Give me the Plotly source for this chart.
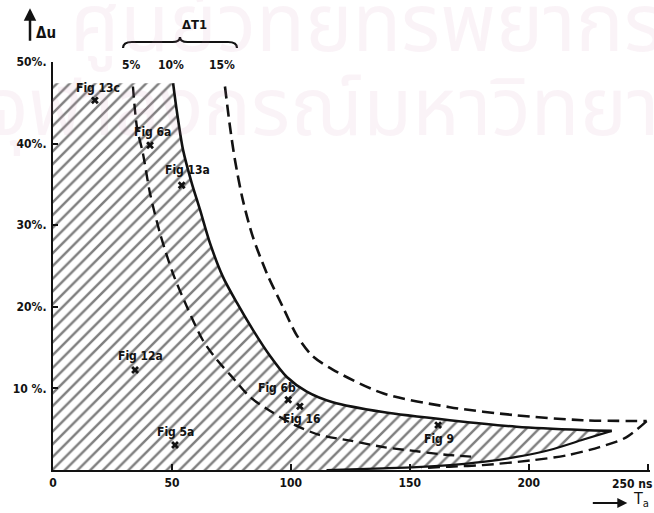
import plotly.graph_objects as go

# ---- data ----
# upper boundary of hatched region (solid, ΔT1 = 10 %)
solid_up_T = [50.5, 52.0, 54.7, 58.3, 61.8, 66.0, 71.4, 77.3, 84.0, 91.2, 98.3, 106.7, 117.6, 138.7, 166.8, 194.9, 222.7, 234.9]
solid_up_u = [47.4, 44.1, 39.2, 35.2, 31.9, 27.8, 23.7, 20.5, 17.2, 14.0, 11.4, 9.6, 8.3, 7.1, 6.1, 5.3, 4.9, 4.8]
# lower boundary returning from the tip (solid)
solid_lo_T = [234.9, 222.7, 208.8, 194.9, 180.7, 166.8, 152.9, 138.7, 125, 115]
solid_lo_u = [4.8, 3.7, 2.45, 1.6, 1.0, 0.6, 0.35, 0.2, 0.08, 0.0]
# ΔT1 = 5 % (dashed, inner)
dash5_T = [33.6, 35.3, 37.8, 40.8, 45.0, 50.4, 56.3, 63.0, 68.9, 75.0, 83.0, 91.0, 101, 112, 125, 139, 150, 164, 178]
dash5_u = [47.0, 42.0, 38.8, 33.9, 29.0, 24.1, 20.0, 15.9, 13.5, 11.5, 8.9, 7.3, 5.6, 4.3, 3.6, 2.8, 2.4, 1.9, 1.6]
# ΔT1 = 15 % (dashed, outer) - upper branch and return branch
dash15_up_T = [72.3, 74.4, 76.5, 79.8, 84.0, 89.9, 96.6, 102.5, 109, 117.6, 138.7, 166.8, 194.9, 222.7, 249.6]
dash15_up_u = [47.0, 42.1, 38.0, 33.1, 28.6, 24.1, 20.0, 16.5, 14.0, 12.3, 9.4, 7.7, 6.7, 6.1, 6.0]
dash15_lo_T = [249.6, 241, 229.8, 216, 201.7, 180.7, 166.8, 155]
dash15_lo_u = [6.0, 4.0, 2.8, 1.8, 1.2, 0.6, 0.4, 0.25]

# measured points
fig_names = ["Fig 13c", "Fig 6a", "Fig 13a", "Fig 12a", "Fig 5a", "Fig 6b", "Fig 16", "Fig 9"]
fig_T = [17.6, 40.8, 54.1, 34.5, 51.3, 98.9, 103.8, 161.9]
fig_u = [45.3, 39.8, 34.9, 12.25, 3.06, 8.6, 7.8, 5.5]
label_dx = [3, 2, 6, 5, 0, -11, 2, 1]
label_dy = [12, 13, 15, 14, 13, 12, -13, -14]

# curve labels (ΔT1)
curve_labels = ["5%", "10%", "15%"]
curve_label_T = [32.8, 49.6, 71.0]

y_ticks = [10, 20, 30, 40, 50]
y_ticktext = ["10 %.", "20%.", "30%.", "40%.", "50%."]
x_ticks = [0, 50, 100, 150, 200, 250]
x_ticktext = ["0", "50", "100", "150", "200", " "]

INK = "#121212"
FONT = dict(family="DejaVu Sans Condensed", size=12, color=INK, weight="bold")
SPL = dict(shape="spline", smoothing=0.8)

fig = go.Figure()

# hatched region
reg_T = [0, 0] + solid_up_T + solid_lo_T[1:] + [0]
reg_u = [0, solid_up_u[0]] + solid_up_u + solid_lo_u[1:] + [0]
fig.add_trace(go.Scatter(
    x=reg_T, y=reg_u, mode="lines", fill="toself", line=dict(width=0),
    fillcolor="rgba(255,255,255,0)",
    fillpattern=dict(shape="/", fgcolor="#000000", bgcolor="rgba(255,255,255,0)", size=9, solidity=0.27),
    hoverinfo="skip", showlegend=False))

# solid boundary
fig.add_trace(go.Scatter(x=solid_up_T, y=solid_up_u, mode="lines",
                         line=dict(color=INK, width=2.6, **SPL), showlegend=False))
fig.add_trace(go.Scatter(x=solid_lo_T, y=solid_lo_u, mode="lines",
                         line=dict(color=INK, width=2.2, **SPL), showlegend=False))
# dashed curves
fig.add_trace(go.Scatter(x=dash5_T, y=dash5_u, mode="lines",
                         line=dict(color=INK, width=2.4, dash="11px,6px", **SPL), showlegend=False))
fig.add_trace(go.Scatter(x=dash15_up_T, y=dash15_up_u, mode="lines",
                         line=dict(color=INK, width=2.6, dash="12px,6px", **SPL), showlegend=False))
fig.add_trace(go.Scatter(x=dash15_lo_T, y=dash15_lo_u, mode="lines",
                         line=dict(color=INK, width=2.4, dash="12px,6px", **SPL), showlegend=False))

# points
fig.add_trace(go.Scatter(x=fig_T, y=fig_u, mode="markers",
                         marker=dict(symbol="x", size=7, color=INK, line=dict(width=0)),
                         showlegend=False))

annotations = []
# library stamp watermark (very faint)
WM = dict(family="Noto Sans Thai, Noto Sans", size=80, color="rgba(205,140,180,0.10)")
annotations += [
    dict(x=1.025, y=1.086, xref="paper", yref="paper", text="ศูนย์วิทยทรัพยากร", showarrow=False,
         xanchor="right", yanchor="middle", font=WM),
    dict(x=1.176, y=0.882, xref="paper", yref="paper", text="จุฬาลงกรณ์มหาวิทยาลัย", showarrow=False,
         xanchor="right", yanchor="middle", font=WM),
]
for name, t, u, dx, dy in zip(fig_names, fig_T, fig_u, label_dx, label_dy):
    annotations.append(dict(x=t, y=u, xref="x", yref="y", text=name, showarrow=False,
                            xshift=dx, yshift=dy, font=FONT))
for lab, t in zip(curve_labels, curve_label_T):
    annotations.append(dict(x=t, y=49.6, xref="x", yref="y", text=lab, showarrow=False,
                            font=FONT, yanchor="middle"))
annotations += [
    dict(x=0.2127, y=1.115, xref="paper", yref="paper", text="ΔT1", showarrow=False,
         font=dict(family="DejaVu Sans Condensed", size=13, color=INK, weight="bold")),
    # Δu arrow
    dict(x=-0.0385, y=1.132, xref="paper", yref="paper", ax=0, ay=34, text="", showarrow=True,
         arrowhead=2, arrowsize=1, arrowwidth=2.5, arrowcolor=INK),
    dict(x=-0.031, y=1.097, xref="paper", yref="paper", text="Δu", showarrow=False, xanchor="left",
         font=dict(family="DejaVu Sans Condensed", size=15, color=INK, weight="bold")),
    # Ta arrow
    dict(x=0.962, y=-0.081, xref="paper", yref="paper", ax=-36, ay=0, text="", showarrow=True,
         arrowhead=2, arrowsize=1, arrowwidth=2, arrowcolor=INK),
    dict(x=1.0, y=-0.072, xref="paper", yref="paper", text="T<sub>a</sub>", showarrow=False,
         xanchor="right", yanchor="middle", borderpad=0,
         font=dict(family="DejaVu Sans Condensed", size=16, color=INK)),
    dict(x=250, y=0, xref="x", yref="y", yshift=-14, xshift=6, text="250 ns", showarrow=False,
         xanchor="right", font=FONT),
]

bracket = ("M 0.1173,1.0343 Q 0.1173,1.049 0.1323,1.049 L 0.2000,1.049 "
           "Q 0.2127,1.049 0.2127,1.0613 Q 0.2127,1.049 0.2254,1.049 L 0.2932,1.049 "
           "Q 0.3082,1.049 0.3082,1.0343")

fig.update_layout(
    width=654, height=513,
    margin=dict(l=53, r=4, t=62, b=43),
    paper_bgcolor="white", plot_bgcolor="rgba(0,0,0,0)",
    showlegend=False,
    annotations=annotations,
    shapes=[dict(type="path", path=bracket, xref="paper", yref="paper", line=dict(color=INK, width=2.2))],
    xaxis=dict(range=[0, 251], showgrid=False, zeroline=False, showline=True, linecolor=INK, linewidth=2.2,
               ticks="inside", ticklen=6, tickwidth=2, tickcolor=INK, automargin=False,
               tickvals=x_ticks, ticktext=x_ticktext, tickfont=FONT),
    yaxis=dict(range=[0, 50], showgrid=False, zeroline=False, showline=True, linecolor=INK, linewidth=2.2,
               ticks="inside", ticklen=5, tickwidth=2, tickcolor=INK, automargin=False,
               tickvals=y_ticks, ticktext=y_ticktext, tickfont=FONT, ticklabelstandoff=2),
)

fig.write_html("out.html", config={"displayModeBar": False},
               post_script="document.body.style.margin='0px';")
